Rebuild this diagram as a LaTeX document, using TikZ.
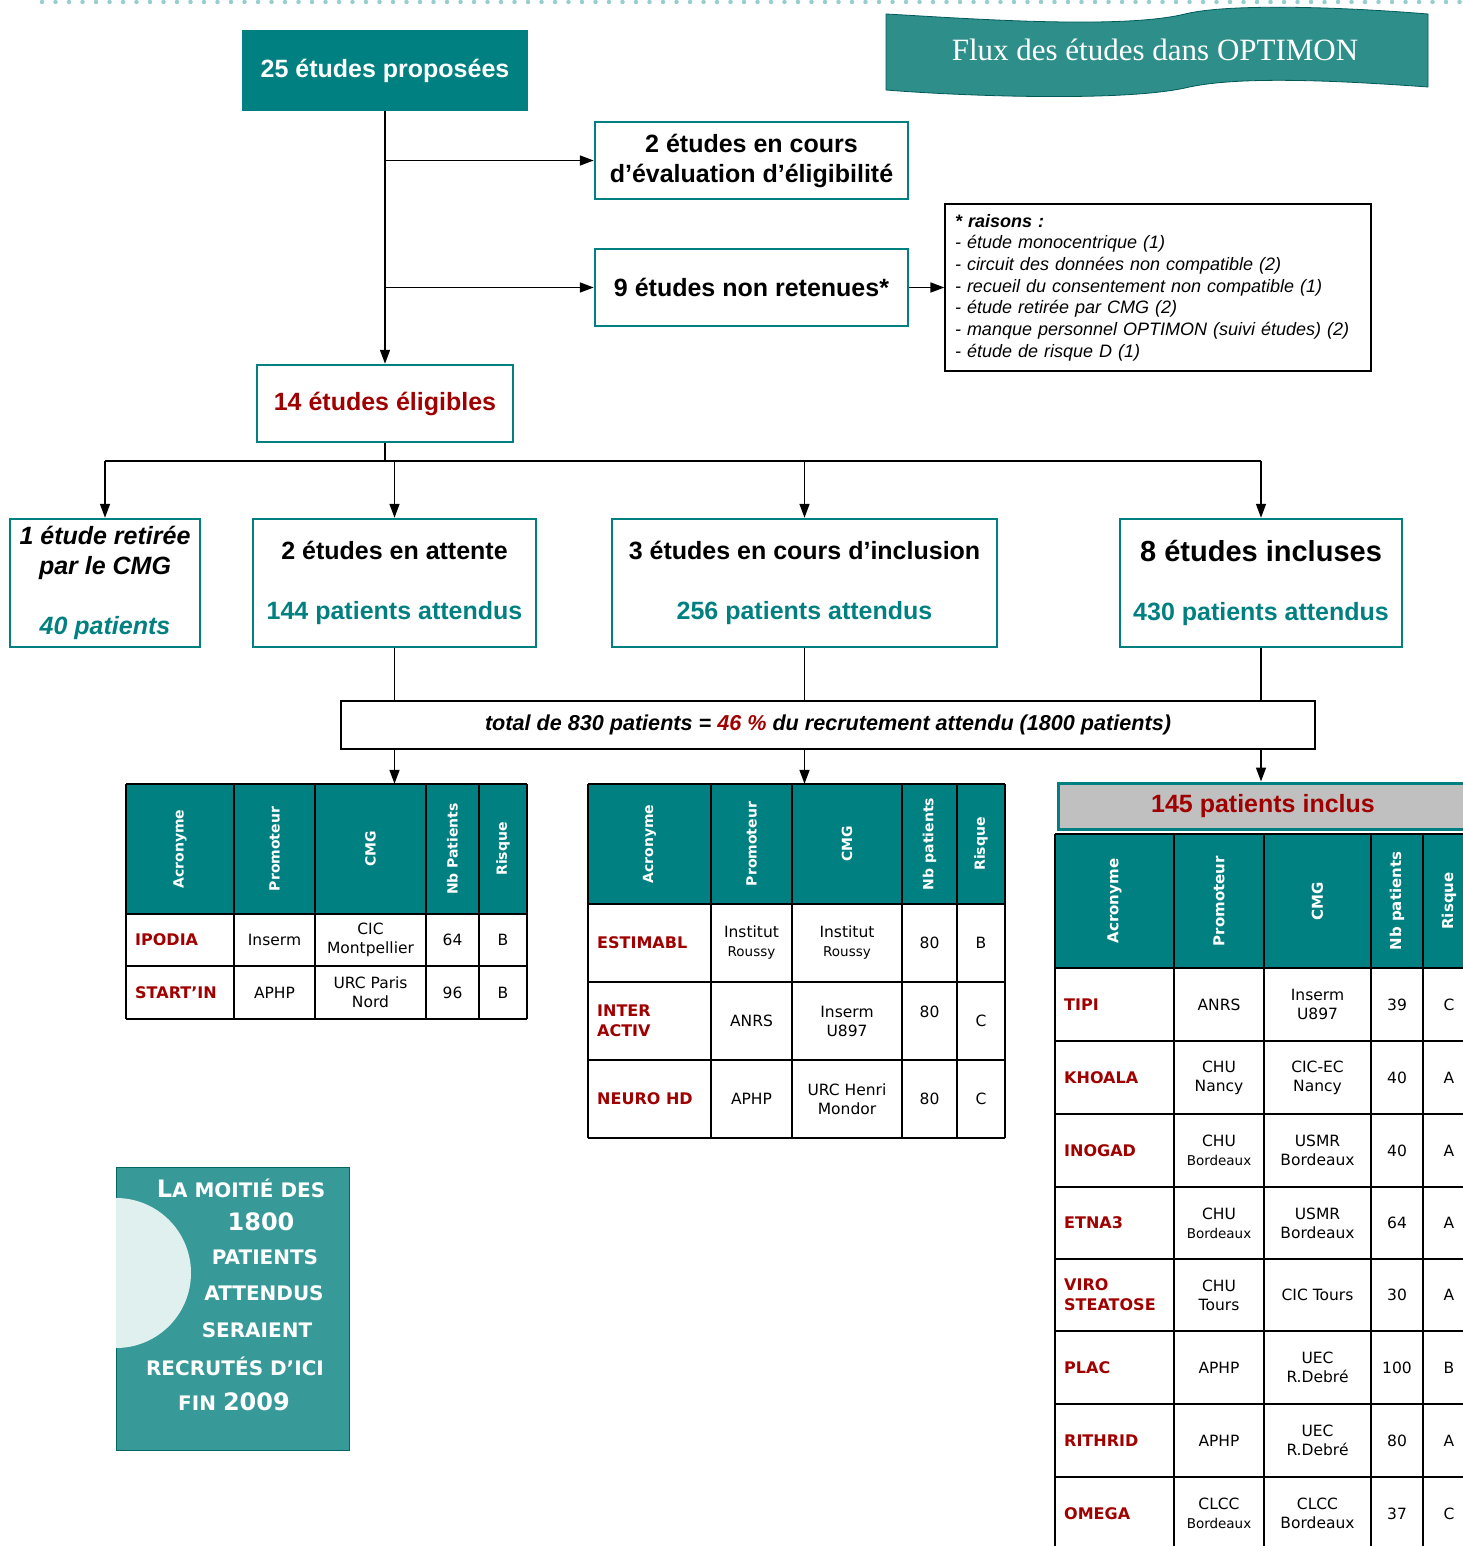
\documentclass[tikz,border=0pt]{standalone}
\usepackage{fontspec}
\setmainfont{Liberation Sans}
\newfontfamily\verd{DejaVu Sans}
\newfontfamily\titlefont{Liberation Serif}
\usepackage{tikz}
\usepackage{xcolor}
\usetikzlibrary{arrows.meta}

\definecolor{tealdk}{RGB}{0,128,128}
\definecolor{tealmid}{RGB}{46,142,138}
\definecolor{tealbox}{RGB}{55,154,152}
\definecolor{tealpale}{RGB}{224,240,239}
\definecolor{tealdot}{RGB}{150,205,205}
\definecolor{rouge}{RGB}{160,0,0}
\definecolor{gris}{RGB}{192,192,192}

\newcommand{\fs}[2]{\fontsize{#1}{#2}\selectfont}
\newcommand{\petit}[1]{{\fs{13.5}{16}#1}}
\newcommand{\gros}[1]{{\fs{24}{27}#1}}

\begin{document}
\begin{tikzpicture}[x=1pt, y=-1pt,
    fleche/.style={-{Triangle[length=14pt,width=10pt]}, line width=1.6pt},
    trait/.style={line width=1.6pt},
    grille/.style={line width=1.2pt},
    flowbox/.style={draw=tealdk, line width=2.5pt, fill=white, align=center,
        font=\fs{25}{30}\bfseries, inner sep=0pt},
    notebox/.style={draw, line width=1.2pt, align=left, inner xsep=10pt,
        font=\fs{18}{21.7}\itshape},
    tabhead/.style={fill=tealdk, inner sep=0pt},
    hdr/.style={rotate=90, text=white, font=\verd\fs{14}{16}\bfseries},
    cell/.style={align=center, font=\verd\fs{15.5}{19}},
    acro/.style={anchor=west, align=left, inner xsep=0pt, text=rouge,
        font=\verd\fs{16}{20}\bfseries},
    moitxt/.style={text=white, font=\verd\fs{20}{23}\bfseries}]
\path[use as bounding box] (0,0) rectangle (1463,1546);
\clip (0,0) rectangle (1463,1546);

% Top dotted rule
\draw[tealdot, line width=4.5pt, line cap=round, dash pattern=on 0pt off 13.5pt]
    (42,2) -- (1463,2);

% Title banner
\draw[fill=tealmid, draw=tealdk!70!black, line width=0.8pt]
    (886,14) .. controls (960,18) and (1120,30) .. (1185,14)
    .. controls (1225,4) and (1330,6) .. (1428,14) -- (1428,87)
    .. controls (1330,80) and (1235,76) .. (1185,88)
    .. controls (1120,102) and (960,96) .. (886,90) -- cycle;
\node[text=white, font=\titlefont\fs{31}{34}] (titre) at (1155,50) {Flux des études dans OPTIMON};

% Selection flow
\node[flowbox, fill=tealdk, draw=tealdk, text=white, minimum width=284, minimum height=79]
    (prop) at (385,70.5) {25 études proposées};
\node[flowbox, minimum width=313, minimum height=77] (eval) at (751.5,160.5)
    {2 études en cours\\d’évaluation d’éligibilité};
\node[flowbox, minimum width=313, minimum height=77] (nonret) at (751.5,287.5)
    {9 études non retenues*};
\node[notebox, text width=406, minimum height=167] (raisons) at (1158,287.5)
    {\textbf{* raisons :}\\
     - étude monocentrique (1)\\
     - circuit des données non compatible (2)\\
     - recueil du consentement non compatible (1)\\
     - étude retirée par CMG (2)\\
     - manque personnel OPTIMON (suivi études) (2)\\
     - étude de risque D (1)};
\node[flowbox, text=rouge, minimum width=256, minimum height=77] (elig) at (385,403.5)
    {14 études éligibles};

\draw[fleche] (prop.south) -- (elig.north);
\draw[fleche] (prop.south |- eval.west) -- (eval.west);
\draw[fleche] (prop.south |- nonret.west) -- (nonret.west);
\draw[fleche] (nonret.east) -- (raisons.west);

% Eligible studies
\node[flowbox, font=\fs{25}{30}\bfseries\itshape, minimum width=190, minimum height=128]
    (retir) at (105,583) {1 étude retirée\\par le CMG\\[30pt]{\color{tealdk}40 patients}};
\node[flowbox, minimum width=283, minimum height=128] (attente) at (394.5,583)
    {2 études en attente\\[30pt]{\color{tealdk}144 patients attendus}};
\node[flowbox, minimum width=385, minimum height=128] (inclusion) at (804.5,583)
    {3 études en cours d’inclusion\\[30pt]{\color{tealdk}256 patients attendus}};
\node[flowbox, minimum width=282, minimum height=128] (incluses) at (1261,583)
    {{\fs{29}{34}8 études incluses}\\[29pt]{\color{tealdk}430 patients attendus}};

\coordinate (br) at (385,461);
\draw[trait] (elig.south) -- (br);
\draw[trait] (retir.north |- br) -- (incluses.north |- br);
\foreach \n in {retir,attente,inclusion,incluses}
    \draw[fleche] (\n.north |- br) -- (\n.north);

\node[draw, line width=1.2pt, minimum width=974, minimum height=48,
    font=\fs{21.6}{24}\bfseries\itshape] (total) at (828,725)
    {total de 830 patients = {\color{rouge}46 \%} du recrutement attendu (1800 patients)};

% Table 1 : studies on hold
\node[tabhead, minimum width=401, minimum height=130] (tabA) at (326.5,849) {};
\foreach \x in {126,234,315,426,479,527} \draw[grille] (\x,784) -- (\x,1019);
\foreach \y in {784,914,966,1019} \draw[grille] (126,\y) -- (527,\y);
\foreach \x/\t [count=\i] in {180/Acronyme, 274.5/Promoteur, 370.5/CMG,
        452.5/Nb Patients, 503/Risque}
    \node[hdr] (ha\i) at (\x,849) {\t};
\foreach \yy/\acr/\prom/\cmg/\nbp/\risq [count=\i] in {
        940/IPODIA/Inserm/{CIC\\Montpellier}/64/B,
        992.5/START’IN/APHP/{URC Paris\\Nord}/96/B} {
    \node[acro] (aa\i) at (135,\yy) {\acr};
    \node[cell] (ap\i) at (274.5,\yy) {\prom};
    \node[cell] (ac\i) at (370.5,\yy) {\cmg};
    \node[cell] (an\i) at (452.5,\yy) {\nbp};
    \node[cell] (ar\i) at (503,\yy) {\risq};
}

% Table 2 : studies in inclusion
\node[tabhead, minimum width=417, minimum height=120] (tabB) at (796.5,844) {};
\foreach \x in {588,711,792,902,957,1005} \draw[grille] (\x,784) -- (\x,1138);
\foreach \y in {784,904,982,1060,1138} \draw[grille] (588,\y) -- (1005,\y);
\foreach \x/\t [count=\i] in {649.5/Acronyme, 751.5/Promoteur, 847/CMG,
        929.5/Nb patients, 981/Risque}
    \node[hdr] (hb\i) at (\x,844) {\t};
\foreach \yy/\acr/\prom/\cmg/\nbp/\risq [count=\i] in {
        943/ESTIMABL/{Institut\\\petit{Roussy}}/{Institut\\\petit{Roussy}}/80/B,
        1021/{INTER\\ACTIV}/ANRS/{Inserm\\U897}/{80\\\mbox{}}/C,
        1099/NEURO HD/APHP/{URC Henri\\Mondor}/80/C} {
    \node[acro] (ba\i) at (597,\yy) {\acr};
    \node[cell] (bp\i) at (751.5,\yy) {\prom};
    \node[cell] (bc\i) at (847,\yy) {\cmg};
    \node[cell] (bn\i) at (929.5,\yy) {\nbp};
    \node[cell] (br\i) at (981,\yy) {\risq};
}

% Table 3 : included studies
\node[draw=tealdk, fill=gris, line width=3pt, minimum width=410, minimum height=46,
    text=rouge, font=\fs{25}{30}\bfseries] (inclus) at (1263,806) {145 patients inclus};
\node[tabhead, minimum width=420, minimum height=134, anchor=north west] (tabC) at (1055,834) {};
\foreach \x in {1055,1174,1264,1371,1423,1475} \draw[grille] (\x,834) -- (\x,1550);
\foreach \y in {834,968,1041,1114,1187,1259,1331,1404,1477} \draw[grille] (1055,\y) -- (1475,\y);
\foreach \x/\t [count=\i] in {1114.5/Acronyme, 1219/Promoteur, 1317.5/CMG,
        1397/Nb patients, 1449/Risque}
    \node[hdr, font=\verd\fs{15}{17}\bfseries] (hc\i) at (\x,901) {\t};
\foreach \yy/\acr/\prom/\cmg/\nbp/\risq [count=\i] in {
        1004.5/TIPI/ANRS/{Inserm\\U897}/39/C,
        1077.5/KHOALA/{CHU\\Nancy}/{CIC-EC\\Nancy}/40/A,
        1150.5/INOGAD/{CHU\\\petit{Bordeaux}}/{USMR\\Bordeaux}/40/A,
        1223/ETNA3/{CHU\\\petit{Bordeaux}}/{USMR\\Bordeaux}/64/A,
        1295/{VIRO\\STEATOSE}/{CHU\\Tours}/CIC Tours/30/A,
        1367.5/PLAC/APHP/{UEC\\R.Debré}/100/B,
        1440.5/RITHRID/APHP/{UEC\\R.Debré}/80/A,
        1513.5/OMEGA/{CLCC\\\petit{Bordeaux}}/{CLCC\\Bordeaux}/37/C} {
    \node[acro] (ca\i) at (1064,\yy) {\acr};
    \node[cell] (cp\i) at (1219,\yy) {\prom};
    \node[cell] (cc\i) at (1317.5,\yy) {\cmg};
    \node[cell] (cn\i) at (1397,\yy) {\nbp};
    \node[cell] (cr\i) at (1449,\yy) {\risq};
}

% Links through the total box
\foreach \n in {attente,inclusion,incluses}
    \draw[trait] (\n.south) -- (\n.south |- total.north);
\draw[fleche] (attente.south |- total.south) -- (attente.south |- tabA.north);
\draw[fleche] (inclusion.south |- total.south) -- (inclusion.south |- tabB.north);
\draw[fleche] (incluses.south |- total.south) -- (incluses.south |- inclus.north);

% Half of the patients box
\node[fill=tealbox, draw=tealdk!80!black, line width=1pt, minimum width=233,
    minimum height=283, inner sep=0pt] (moitie) at (232.5,1308.5) {};
\begin{scope}
    \clip (116,1167) rectangle (349,1450);
    \fill[tealpale] (116,1273) circle[radius=75];
\end{scope}
\foreach \yy/\x/\t [count=\i] in {
        1188/241/{\gros{L}A MOITIÉ DES},
        1222/261/{\gros{1800}},
        1257/265/{PATIENTS},
        1293/264/{ATTENDUS},
        1330/257/{SERAIENT},
        1366/235/{RECRUTÉS D’ICI},
        1402/234/{FIN \gros{2009}}}
    \node[moitxt] (m\i) at (\x,\yy) {\t};
\end{tikzpicture}
\end{document}
